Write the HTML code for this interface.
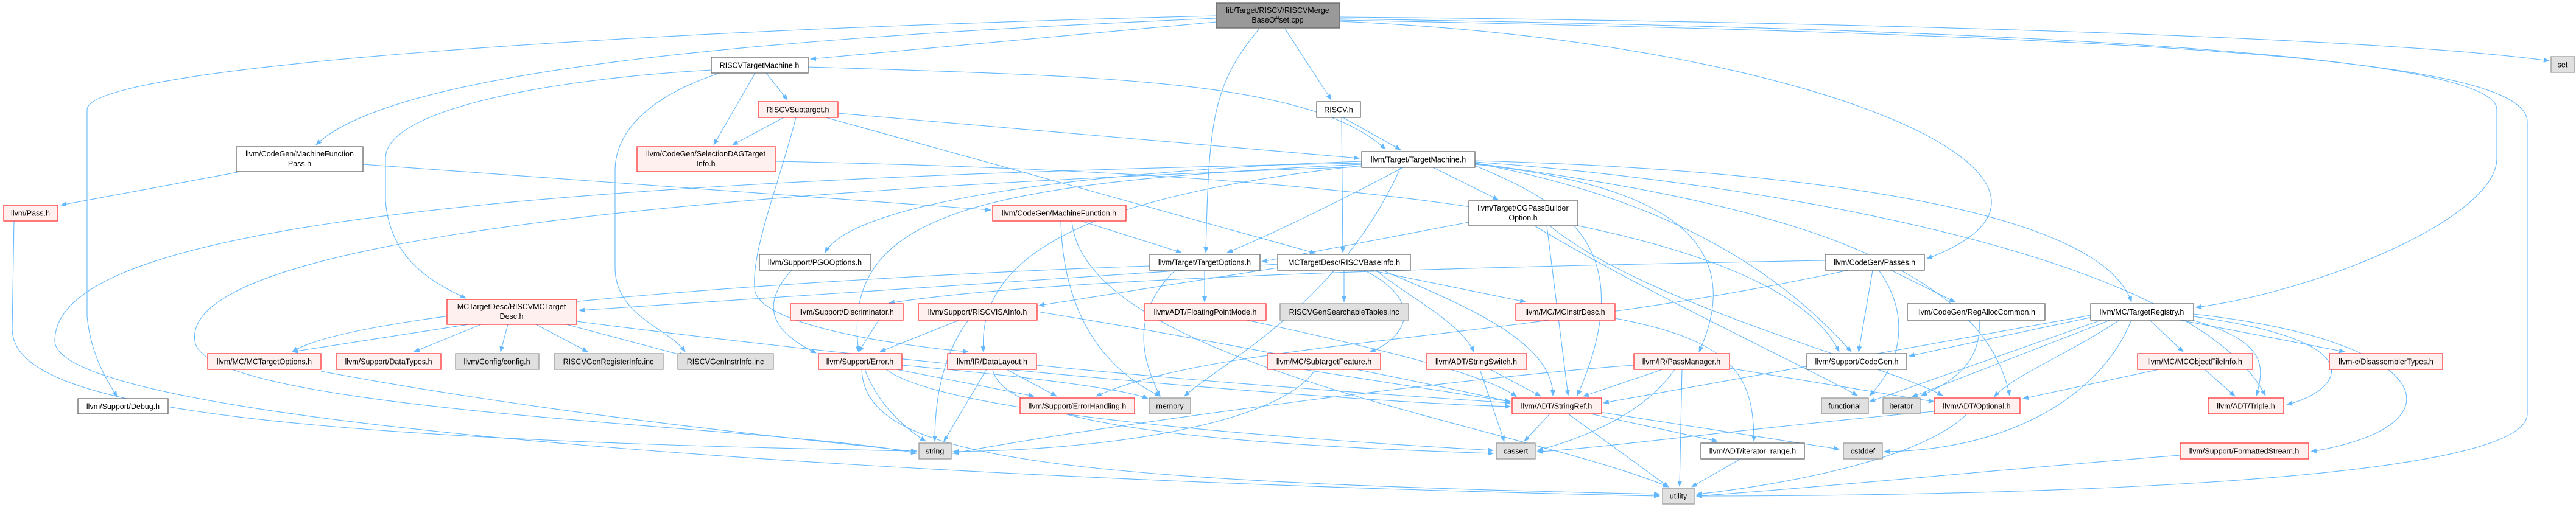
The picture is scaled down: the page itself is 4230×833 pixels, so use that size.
<!DOCTYPE html>
<html><head><meta charset="utf-8"><style>
html,body{margin:0;padding:0;background:#fff;}
svg{display:block;}
text{font-family:"Liberation Sans",sans-serif;font-size:12.5px;fill:#000;text-anchor:middle;}
.n{fill:#fff;stroke:#666;stroke-width:1.3;}
.r{fill:#fff0f0;stroke:#f33;stroke-width:1.3;}
.g{fill:#e0e0e0;stroke:#999;stroke-width:1.3;}
.m{fill:#999;stroke:#666;stroke-width:1.3;}
path{fill:none;stroke:#63b8ff;stroke-width:1.1;marker-end:url(#a);}
</style></head><body>
<svg width="4230" height="833" viewBox="0 0 4230 833" xmlns="http://www.w3.org/2000/svg">
<defs><marker id="a" markerWidth="10" markerHeight="8" refX="9" refY="4" orient="auto" markerUnits="userSpaceOnUse"><polygon points="0,0 10,4 0,8" fill="#63b8ff"/></marker></defs>
<g>
<path d="M1997,30 C1300,60 650,110 519,238"/>
<path d="M1997,26 C1000,50 143,110 143,180 L143,520 C150,590 180,630 192,652"/>
<path d="M1997,36 L1331,97"/>
<path d="M2110,47 L2186,164"/>
<path d="M2068,47 C1990,140 1985,200 1980,415"/>
<path d="M2200,28 C3000,35 3900,60 4186,100"/>
<path d="M2200,31 C3500,50 4100,100 4100,180 L4100,260 C4100,360 3800,480 3606,505"/>
<path d="M2200,33 C3600,60 4150,100 4150,200 L4150,680 C4150,800 3200,815 2786,815"/>
<path d="M2200,35 C3000,70 3500,300 3164,425"/>
<path d="M1240,120 L1172,238"/>
<path d="M1258,120 L1293,164"/>
<path d="M1327,110 C1800,125 2150,130 2275,245"/>
<path d="M1168,115 C900,130 633,180 633,260 L633,330 C640,420 700,460 765,490"/>
<path d="M1182,120 C1060,160 1010,220 1010,280 L1010,440 C1010,520 1100,540 1125,578"/>
<path d="M1287,193 L1203,238"/>
<path d="M1376,186 L2232,260"/>
<path d="M1356,193 L2160,416"/>
<path d="M1307,193 C1280,300 1230,420 1240,480 C1260,540 1500,570 1590,578"/>
<path d="M1273,265 C2000,280 2900,330 3020,578"/>
<path d="M390,283 L100,337"/>
<path d="M596,270 L1627,345"/>
<path d="M23,363 L20,540 C20,650 300,720 1505,741"/>
<path d="M1775,363 L1940,415"/>
<path d="M1742,363 C1745,500 1800,600 1905,651"/>
<path d="M1760,363 C1780,600 2500,700 2740,800"/>
<path d="M2353,275 L2460,328"/>
<path d="M2304,275 C2200,330 2100,380 2015,415"/>
<path d="M2236,265 C1800,280 1400,330 1355,415"/>
<path d="M2422,268 C2700,320 2900,420 3040,578"/>
<path d="M2422,270 C2700,300 2880,380 2790,578"/>
<path d="M2422,272 C2560,330 2700,400 2590,650"/>
<path d="M2422,268 C2800,320 3250,400 3300,650"/>
<path d="M2422,266 C2900,300 3600,420 3720,650"/>
<path d="M2236,270 C1600,300 1380,350 1410,578"/>
<path d="M2236,272 C1900,310 1600,380 1615,578"/>
<path d="M2422,264 C3000,280 3450,350 3500,496"/>
<path d="M2300,275 C2200,500 2000,600 1945,651"/>
<path d="M2236,268 C600,300 90,400 90,560 C90,700 1500,790 2725,815"/>
<path d="M2236,274 C900,320 300,420 320,560 C330,680 1300,700 1505,745"/>
<path d="M2205,193 L2300,246"/>
<path d="M2203,193 L2205,415"/>
<path d="M2412,365 L2072,430"/>
<path d="M2540,371 L2575,650"/>
<path d="M2545,371 C2700,500 3100,600 3190,650"/>
<path d="M2520,371 C2700,480 3000,620 3050,650"/>
<path d="M1300,444 C1230,520 1300,560 1340,580"/>
<path d="M1978,444 L1978,496"/>
<path d="M1930,444 C1850,520 1880,600 1905,651"/>
<path d="M1888,437 C1500,450 600,500 480,578"/>
<path d="M2207,444 L2207,496"/>
<path d="M2250,444 L2505,496"/>
<path d="M2260,444 C2300,480 2400,530 2420,578"/>
<path d="M2240,444 C2350,500 2300,560 2250,578"/>
<path d="M2270,444 C2400,500 2550,560 2550,650"/>
<path d="M2098,440 L1706,502"/>
<path d="M2098,434 L951,510"/>
<path d="M2997,428 C2300,440 1700,460 1460,498"/>
<path d="M3075,444 L3052,578"/>
<path d="M3105,444 L3210,496"/>
<path d="M3085,444 C3140,520 3120,600 3070,650"/>
<path d="M3035,444 C2500,560 2000,560 1800,651"/>
<path d="M1443,526 L1410,578"/>
<path d="M1575,526 L1445,578"/>
<path d="M1590,526 C1550,580 1535,650 1535,725"/>
<path d="M1703,512 C2000,560 2300,620 2480,660"/>
<path d="M2047,526 C2300,580 2450,620 2490,652"/>
<path d="M1420,607 C1440,660 1480,700 1520,725"/>
<path d="M1472,607 L1698,651"/>
<path d="M1481,600 C1700,620 1850,640 1885,655"/>
<path d="M1415,607 C1420,750 1700,790 2725,812"/>
<path d="M1455,607 C1550,680 2100,720 2452,740"/>
<path d="M1653,607 L1735,651"/>
<path d="M1620,607 L1550,725"/>
<path d="M1702,600 C2000,630 2300,650 2480,662"/>
<path d="M1630,607 C1650,700 2000,730 2452,745"/>
<path d="M2140,607 L2480,660"/>
<path d="M2160,607 C2100,700 1800,740 1565,742"/>
<path d="M2447,607 L2530,651"/>
<path d="M2430,607 L2470,725"/>
<path d="M2730,607 L2600,651"/>
<path d="M2750,607 C2700,680 2600,720 2525,740"/>
<path d="M2762,607 L2758,799"/>
<path d="M2840,605 L3176,660"/>
<path d="M2683,600 C2400,620 1800,700 1565,745"/>
<path d="M2652,523 C2850,560 2880,620 2880,725"/>
<path d="M2545,680 L2503,725"/>
<path d="M2575,680 L2740,800"/>
<path d="M2612,680 L2820,725"/>
<path d="M2620,676 L3020,738"/>
<path d="M2858,754 L2778,800"/>
<path d="M3230,680 C3150,760 2900,800 2786,812"/>
<path d="M3176,676 C2900,700 2600,740 2524,742"/>
<path d="M3530,526 L3585,578"/>
<path d="M3580,526 L3850,578"/>
<path d="M3600,526 C3720,560 3720,600 3705,650"/>
<path d="M3480,526 C3400,580 3300,620 3275,652"/>
<path d="M3602,516 C4000,560 4050,700 3795,742"/>
<path d="M3440,520 L3135,585"/>
<path d="M3450,526 L3070,660"/>
<path d="M3465,526 L3140,652"/>
<path d="M3500,526 C3450,650 3300,740 3094,742"/>
<path d="M3433,518 L2633,662"/>
<path d="M3602,520 C3900,560 3850,640 3755,665"/>
<path d="M3545,607 L3322,655"/>
<path d="M3620,607 L3670,651"/>
<path d="M3250,526 C3255,600 3200,630 3155,650"/>
<path d="M3580,748 C3300,770 3000,800 2786,815"/>
<path d="M770,533 L480,578"/>
<path d="M790,533 L680,578"/>
<path d="M834,533 L822,578"/>
<path d="M880,533 L965,578"/>
<path d="M930,533 L1125,585"/>
<path d="M947,528 C1500,600 2200,660 2480,668"/>
<path d="M527,610 C900,680 1300,720 1505,742"/>
</g>
<g>
<rect class="m" x="1997" y="5" width="203" height="41"/><text x="2098" y="21">lib/Target/RISCV/RISCVMerge</text><text x="2098" y="37">BaseOffset.cpp</text>
<rect class="n" x="1168" y="94" width="159" height="26"/><text x="1247" y="111.5">RISCVTargetMachine.h</text>
<rect class="r" x="1245" y="167" width="131" height="26"/><text x="1310" y="184.5">RISCVSubtarget.h</text>
<rect class="n" x="2162" y="167" width="72" height="26"/><text x="2198" y="184.5">RISCV.h</text>
<rect class="g" x="4189" y="93" width="39" height="26"/><text x="4208" y="110.5">set</text>
<rect class="n" x="388" y="241" width="208" height="41"/><text x="492" y="257">llvm/CodeGen/MachineFunction</text><text x="492" y="273">Pass.h</text>
<rect class="r" x="1046" y="241" width="227" height="41"/><text x="1159" y="257">llvm/CodeGen/SelectionDAGTarget</text><text x="1159" y="273">Info.h</text>
<rect class="n" x="2236" y="249" width="186" height="26"/><text x="2329" y="266.5">llvm/Target/TargetMachine.h</text>
<rect class="r" x="6" y="337" width="89" height="26"/><text x="50" y="354.5">llvm/Pass.h</text>
<rect class="r" x="1630" y="337" width="219" height="26"/><text x="1739" y="354.5">llvm/CodeGen/MachineFunction.h</text>
<rect class="n" x="2412" y="330" width="179" height="41"/><text x="2501" y="346">llvm/Target/CGPassBuilder</text><text x="2501" y="362">Option.h</text>
<rect class="n" x="1247" y="418" width="183" height="26"/><text x="1338" y="435.5">llvm/Support/PGOOptions.h</text>
<rect class="n" x="1888" y="418" width="181" height="26"/><text x="1978" y="435.5">llvm/Target/TargetOptions.h</text>
<rect class="n" x="2098" y="418" width="218" height="26"/><text x="2207" y="435.5">MCTargetDesc/RISCVBaseInfo.h</text>
<rect class="n" x="2997" y="418" width="163" height="26"/><text x="3078" y="435.5">llvm/CodeGen/Passes.h</text>
<rect class="r" x="734" y="492" width="213" height="41"/><text x="840" y="508">MCTargetDesc/RISCVMCTarget</text><text x="840" y="524">Desc.h</text>
<rect class="r" x="1298" y="499" width="185" height="27"/><text x="1390" y="517">llvm/Support/Discriminator.h</text>
<rect class="r" x="1508" y="499" width="195" height="27"/><text x="1605" y="517">llvm/Support/RISCVISAInfo.h</text>
<rect class="r" x="1879" y="499" width="200" height="27"/><text x="1979" y="517">llvm/ADT/FloatingPointMode.h</text>
<rect class="g" x="2102" y="499" width="211" height="27"/><text x="2207" y="517">RISCVGenSearchableTables.inc</text>
<rect class="r" x="2489" y="499" width="163" height="27"/><text x="2570" y="517">llvm/MC/MCInstrDesc.h</text>
<rect class="n" x="3132" y="499" width="226" height="27"/><text x="3245" y="517">llvm/CodeGen/RegAllocCommon.h</text>
<rect class="n" x="3433" y="499" width="169" height="27"/><text x="3517" y="517">llvm/MC/TargetRegistry.h</text>
<rect class="r" x="341" y="581" width="186" height="26"/><text x="434" y="598.5">llvm/MC/MCTargetOptions.h</text>
<rect class="r" x="552" y="581" width="172" height="26"/><text x="638" y="598.5">llvm/Support/DataTypes.h</text>
<rect class="g" x="748" y="581" width="137" height="26"/><text x="816" y="598.5">llvm/Config/config.h</text>
<rect class="g" x="910" y="581" width="179" height="26"/><text x="999" y="598.5">RISCVGenRegisterInfo.inc</text>
<rect class="g" x="1113" y="581" width="157" height="26"/><text x="1191" y="598.5">RISCVGenInstrInfo.inc</text>
<rect class="r" x="1344" y="581" width="137" height="26"/><text x="1412" y="598.5">llvm/Support/Error.h</text>
<rect class="r" x="1556" y="581" width="146" height="26"/><text x="1629" y="598.5">llvm/IR/DataLayout.h</text>
<rect class="r" x="2081" y="581" width="186" height="26"/><text x="2174" y="598.5">llvm/MC/SubtargetFeature.h</text>
<rect class="r" x="2342" y="581" width="165" height="26"/><text x="2424" y="598.5">llvm/ADT/StringSwitch.h</text>
<rect class="r" x="2683" y="581" width="157" height="26"/><text x="2761" y="598.5">llvm/IR/PassManager.h</text>
<rect class="n" x="2967" y="581" width="164" height="26"/><text x="3049" y="598.5">llvm/Support/CodeGen.h</text>
<rect class="r" x="3510" y="581" width="189" height="26"/><text x="3604" y="598.5">llvm/MC/MCObjectFileInfo.h</text>
<rect class="r" x="3825" y="581" width="186" height="26"/><text x="3918" y="598.5">llvm-c/DisassemblerTypes.h</text>
<rect class="n" x="128" y="655" width="148" height="25"/><text x="202" y="672">llvm/Support/Debug.h</text>
<rect class="r" x="1675" y="654" width="188" height="26"/><text x="1769" y="671.5">llvm/Support/ErrorHandling.h</text>
<rect class="g" x="1887" y="654" width="68" height="26"/><text x="1921" y="671.5">memory</text>
<rect class="r" x="2483" y="654" width="147" height="26"/><text x="2556" y="671.5">llvm/ADT/StringRef.h</text>
<rect class="g" x="2991" y="654" width="77" height="26"/><text x="3029" y="671.5">functional</text>
<rect class="g" x="3092" y="654" width="61" height="26"/><text x="3122" y="671.5">iterator</text>
<rect class="r" x="3176" y="654" width="141" height="26"/><text x="3246" y="671.5">llvm/ADT/Optional.h</text>
<rect class="r" x="3626" y="654" width="124" height="26"/><text x="3688" y="671.5">llvm/ADT/Triple.h</text>
<rect class="g" x="1509" y="728" width="53" height="26"/><text x="1535" y="745.5">string</text>
<rect class="g" x="2457" y="728" width="64" height="26"/><text x="2489" y="745.5">cassert</text>
<rect class="n" x="2793" y="728" width="170" height="26"/><text x="2878" y="745.5">llvm/ADT/iterator_range.h</text>
<rect class="g" x="3027" y="728" width="64" height="26"/><text x="3059" y="745.5">cstddef</text>
<rect class="r" x="3580" y="728" width="211" height="26"/><text x="3685" y="745.5">llvm/Support/FormattedStream.h</text>
<rect class="g" x="2730" y="802" width="52" height="26"/><text x="2756" y="819.5">utility</text>
</g>
</svg>
</body></html>
